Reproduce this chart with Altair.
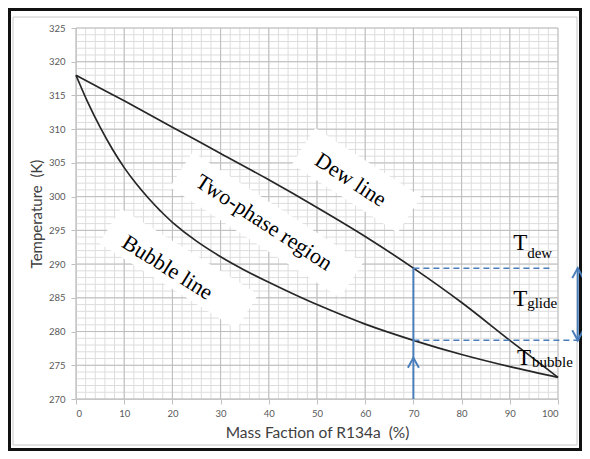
import altair as alt
import pandas as pd

# ---------------- data ----------------
dew_x = [0, 10, 20, 30, 40, 50, 60, 70, 80, 90, 100]
dew_T = [318.0, 314.2, 310.3, 306.4, 302.5, 298.4, 294.1, 289.4, 284.3, 278.7, 273.2]

bubble_x = [0, 2.5, 5, 7.5, 10, 12.5, 15, 17.5, 20, 25, 30, 35, 40, 45, 50, 60, 70, 80, 90, 100]
bubble_T = [318.0, 313.9, 310.3, 307.1, 304.3, 301.9, 299.8, 297.9, 296.2, 293.4,
            291.1, 289.1, 287.3, 285.6, 284.0, 281.1, 278.7, 276.6, 274.8, 273.2]

x_ticks = list(range(0, 101, 10))
y_ticks = list(range(270, 326, 5))
x_minor = list(range(0, 101, 2))
y_minor = list(range(270, 326, 1))

# region labels (text, centre in data units, rotation)
region_text = ["Dew line", "Two-phase region", "Bubble line"]
region_x = [57.0, 39.0, 19.0]
region_T = [302.5, 296.2, 289.5]
region_angle = [33, 33, 32]
box_x = [58.2, 39.5, 21.3]
box_T = [302.4, 295.8, 289.3]

# glide construction at 70 % R134a
sel_x = 70
sel_T_dew = 289.4
sel_T_bubble = 278.7
glide_x = 104.1
dew_dash_end = 98.8
bubble_dash_end = 106.0
arrow_tip_T = 276.1

# T labels: main letter and subscript
t_sub = ["dew", "glide", "bubble"]
t_x = [90.7, 90.7, 91.5]
t_T = [292.1, 283.8, 275.0]
sub_x = [93.6, 93.6, 94.6]
sub_T = [290.95, 283.45, 274.7]

# ---------------- chart ----------------
BLUE = "#4a7ebb"
xs = alt.Scale(domain=[0, 100], nice=False, zero=False)
ys = alt.Scale(domain=[270, 325], nice=False, zero=False)

axis_common = dict(grid=False, labelFont="Lato", labelFontSize=9.5, labelColor="#595959",
                   tickSize=5, tickColor="#bfbfbf", domainColor="#bfbfbf",
                   titleFont="Lato", titleFontWeight="normal", titleColor="#404040")
x_axis = alt.Axis(values=x_ticks, title="Mass Faction of R134a \u00a0(%)",
                  labelPadding=4, titlePadding=8, titleFontSize=15.5, **axis_common)
y_axis = alt.Axis(values=y_ticks, title="Temperature \u00a0(K)",
                  labelPadding=6, titlePadding=4, titleFontSize=15, **axis_common)


def X(f):
    return alt.X(f"{f}:Q", scale=xs, axis=x_axis)


def Y(f):
    return alt.Y(f"{f}:Q", scale=ys, axis=y_axis)


one = pd.DataFrame({"k": [0]})

outer = alt.Chart(one).mark_rect(filled=False, stroke="#111111", strokeWidth=3).encode(
    x=alt.value(-66.5), x2=alt.value(504.5), y=alt.value(-18.5), y2=alt.value(421.5))
inner = alt.Chart(one).mark_rect(filled=False, stroke="#c8c8c8", strokeWidth=1).encode(
    x=alt.value(-63), x2=alt.value(501), y=alt.value(-11), y2=alt.value(417))

minor_v = alt.Chart(pd.DataFrame({"x": x_minor})).mark_rule(color="#dddddd", strokeWidth=1).encode(
    x=X("x"))
minor_h = alt.Chart(pd.DataFrame({"T": y_minor})).mark_rule(color="#dddddd", strokeWidth=1).encode(
    y=Y("T"))
major_v = alt.Chart(pd.DataFrame({"x": x_ticks})).mark_rule(color="#bdbdbd", strokeWidth=1).encode(
    x=X("x"))
major_h = alt.Chart(pd.DataFrame({"T": y_ticks})).mark_rule(color="#bdbdbd", strokeWidth=1).encode(
    y=Y("T"))

layers = [outer, inner, minor_v, minor_h, major_v, major_h]

box_dims = [(126, 43), (203, 42), (162, 41)]
for i in range(3):
    w, h = box_dims[i]
    r = h / w
    path = f"M-1,{-r:.4f}L1,{-r:.4f}L1,{r:.4f}L-1,{r:.4f}Z"
    layers.append(
        alt.Chart(pd.DataFrame({"x": [box_x[i]], "T": [box_T[i]]}))
        .mark_point(shape=path, filled=True, fill="white", color="white", opacity=1,
                    strokeWidth=0, size=w * w, angle=region_angle[i])
        .encode(x=X("x"), y=Y("T"))
    )

curves = pd.concat([
    pd.DataFrame({"x": dew_x, "T": dew_T, "curve": "dew"}),
    pd.DataFrame({"x": bubble_x, "T": bubble_T, "curve": "bubble"}),
])
lines = alt.Chart(curves).mark_line(color="#262626", strokeWidth=1.7, interpolate="catmull-rom").encode(
    x=X("x"), y=Y("T"), detail="curve:N")
layers.append(lines)

for i in range(3):
    layers.append(
        alt.Chart(pd.DataFrame({"x": [region_x[i]], "T": [region_T[i]], "t": [region_text[i]]}))
        .mark_text(font="Liberation Serif", fontSize=22, color="black", angle=region_angle[i],
                   align="center", baseline="middle")
        .encode(x=X("x"), y=Y("T"), text="t:N")
    )

# blue construction
vert = alt.Chart(pd.DataFrame({"x": [sel_x], "T": [270], "T2": [sel_T_dew]})).mark_rule(
    color=BLUE, strokeWidth=2).encode(x=X("x"), y=Y("T"), y2="T2:Q")
dashes = alt.Chart(pd.DataFrame({"x": [sel_x, sel_x], "x2": [dew_dash_end, bubble_dash_end],
                                 "T": [sel_T_dew, sel_T_bubble]})).mark_rule(
    color=BLUE, strokeWidth=1.5, strokeDash=[6, 4]).encode(x=X("x"), x2="x2:Q", y=Y("T"))
glide = alt.Chart(pd.DataFrame({"x": [glide_x], "T": [sel_T_bubble], "T2": [sel_T_dew]})).mark_rule(
    color=BLUE, strokeWidth=2).encode(x=X("x"), y=Y("T"), y2="T2:Q")
up_path = "M-0.55,1L0,0L0.55,1"
down_path = "M-0.55,-1L0,0L0.55,-1"
ups = alt.Chart(pd.DataFrame({"x": [sel_x, glide_x], "T": [arrow_tip_T, sel_T_dew]})).mark_point(
    shape=up_path, filled=False, color=BLUE, opacity=1, strokeWidth=2, size=400).encode(
    x=X("x"), y=Y("T"))
downs = alt.Chart(pd.DataFrame({"x": [glide_x], "T": [sel_T_bubble]})).mark_point(
    shape=down_path, filled=False, color=BLUE, opacity=1, strokeWidth=2, size=400).encode(
    x=X("x"), y=Y("T"))
layers += [vert, dashes, glide, ups, downs]

tmain = alt.Chart(pd.DataFrame({"x": t_x, "T": t_T, "t": ["T"] * 3})).mark_text(
    font="Liberation Serif", fontSize=23, color="black", align="left", baseline="alphabetic").encode(
    x=X("x"), y=Y("T"), text="t:N")
tsub = alt.Chart(pd.DataFrame({"x": sub_x, "T": sub_T, "t": t_sub})).mark_text(
    font="Liberation Serif", fontSize=15, color="black", align="left", baseline="alphabetic").encode(
    x=X("x"), y=Y("T"), text="t:N")
layers += [tmain, tsub]

chart = alt.layer(*layers).properties(
    width=482, height=371,
    padding={"left": 68, "top": 20, "right": 24, "bottom": 52},
    autosize="none",
    background="white",
).configure_view(strokeWidth=0)

chart.save("out.html", embed_options={"renderer": "svg", "actions": False})
